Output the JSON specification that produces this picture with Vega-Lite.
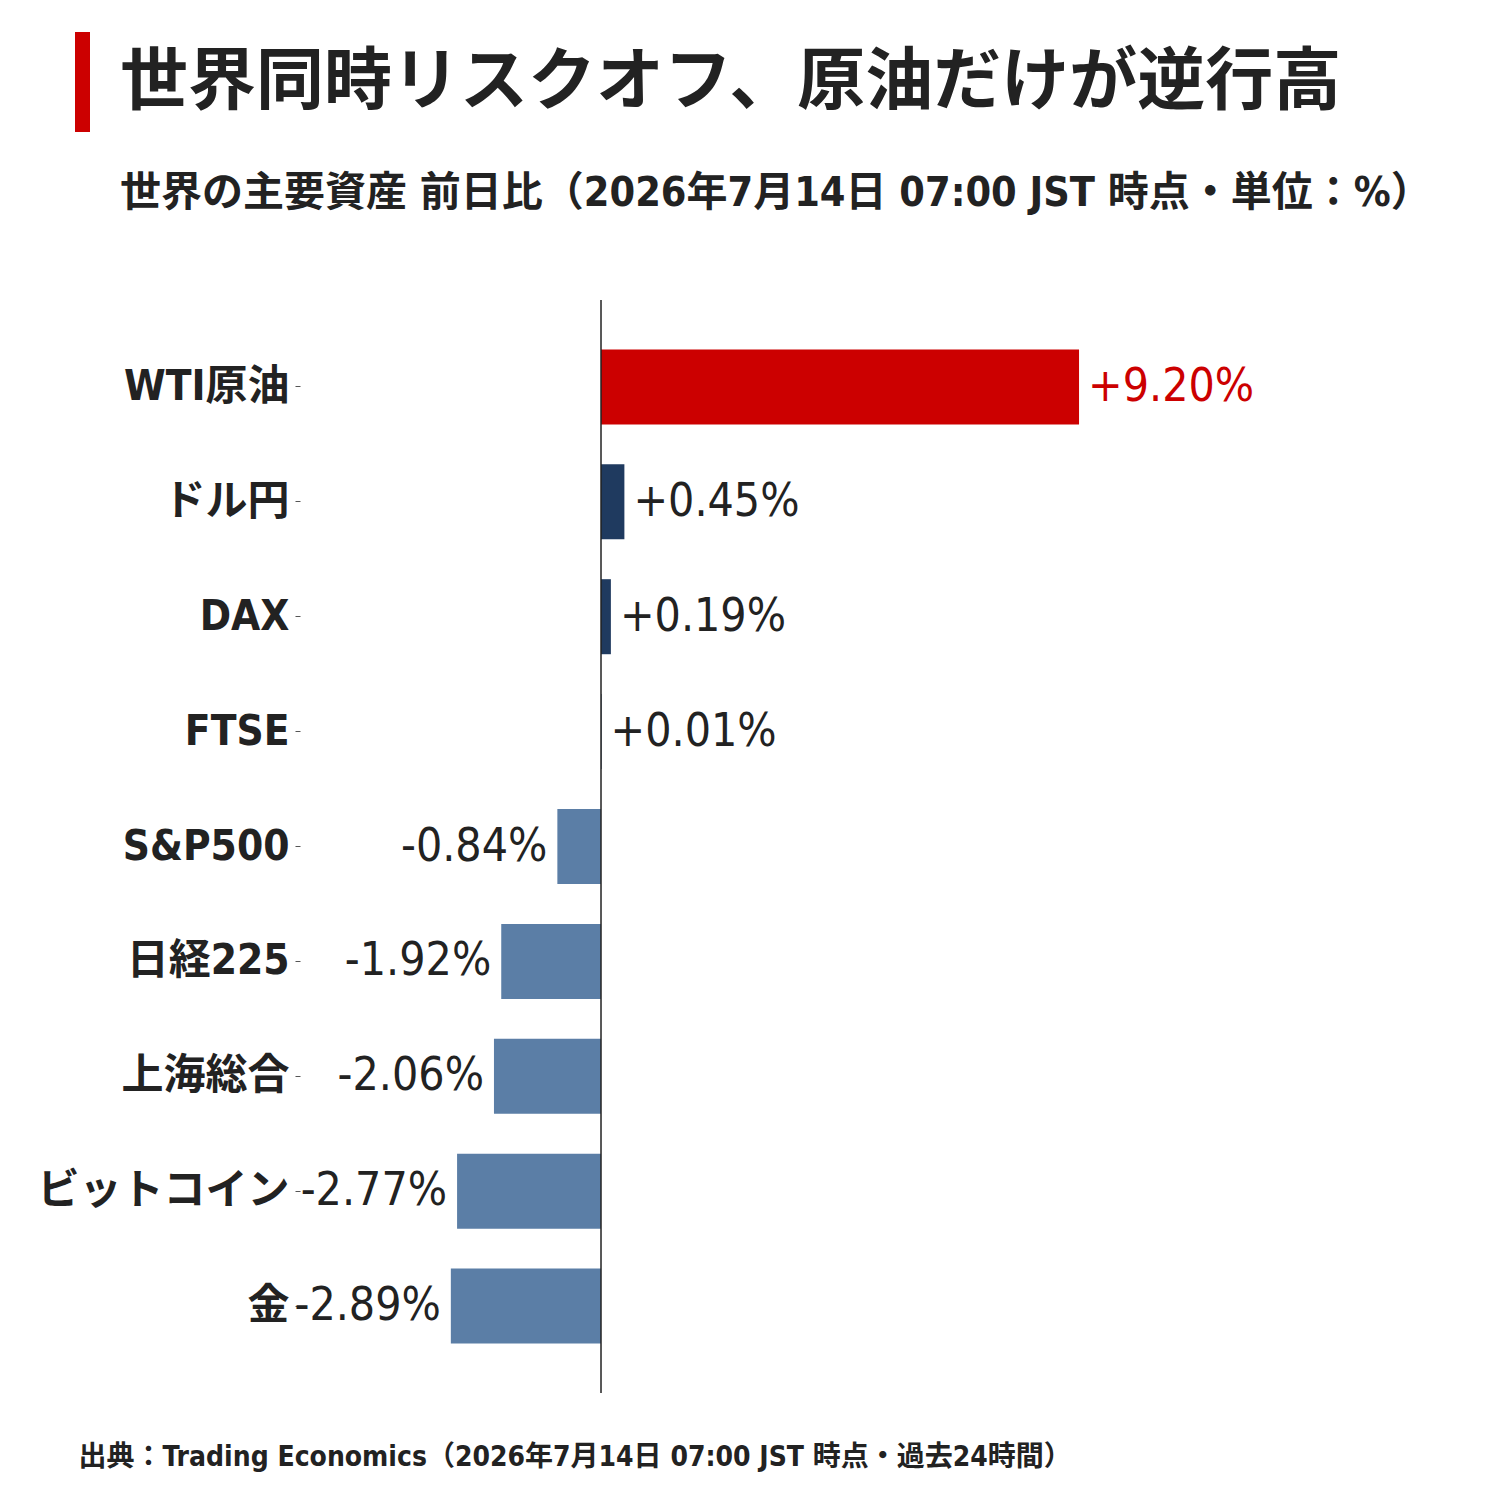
{
  "$schema": "https://vega.github.io/schema/vega-lite/v6.json",
  "autosize": {"type": "none"},
  "padding": {"left": 300, "top": 300, "right": 100, "bottom": 107},
  "width": 1100,
  "height": 1093,
  "background": "white",
  "title": {
    "text": "世界同時リスクオフ、原油だけが逆行高",
    "subtitle": "世界の主要資産 前日比（2026年7月14日 07:00 JST 時点・単位：%）",
    "anchor": "start",
    "frame": "group",
    "dx": -180,
    "offset": -182,
    "font": "DejaVu Sans Condensed, Noto Sans CJK JP",
    "fontSize": 68,
    "fontWeight": "bold",
    "color": "#222222",
    "subtitleFont": "DejaVu Sans Condensed, Noto Sans CJK JP",
    "subtitleFontSize": 41,
    "subtitleFontWeight": "bold",
    "subtitleColor": "#222222",
    "subtitlePadding": 56
  },
  "datasets": {
    "assets": [
      {"asset": "WTI原油", "change": 9.20, "label": "+9.20%", "group": "oil"},
      {"asset": "ドル円", "change": 0.45, "label": "+0.45%", "group": "up"},
      {"asset": "DAX", "change": 0.19, "label": "+0.19%", "group": "up"},
      {"asset": "FTSE", "change": 0.01, "label": "+0.01%", "group": "up"},
      {"asset": "S&P500", "change": -0.84, "label": "-0.84%", "group": "down"},
      {"asset": "日経225", "change": -1.92, "label": "-1.92%", "group": "down"},
      {"asset": "上海総合", "change": -2.06, "label": "-2.06%", "group": "down"},
      {"asset": "ビットコイン", "change": -2.77, "label": "-2.77%", "group": "down"},
      {"asset": "金", "change": -2.89, "label": "-2.89%", "group": "down"}
    ]
  },
  "layer": [
    {
      "data": {"name": "assets"},
      "mark": {"type": "bar"},
      "encoding": {
        "y": {
          "field": "asset",
          "type": "nominal",
          "sort": null,
          "scale": {"paddingInner": 0.347, "paddingOuter": 0.43},
          "axis": {
            "title": null,
            "domain": false,
            "ticks": true,
            "tickSize": 5,
            "tickColor": "#555555",
            "tickWidth": 1,
            "labelPadding": 6,
            "labelLimit": 0,
            "labelFont": "DejaVu Sans Condensed, Noto Sans CJK JP",
            "labelFontSize": 42,
            "labelFontWeight": "bold",
            "labelColor": "#222222"
          }
        },
        "x": {
          "field": "change",
          "type": "quantitative",
          "scale": {"domain": [-5.793, 15.377], "nice": false, "zero": false},
          "axis": {
            "labels": false,
            "ticks": false,
            "domain": false,
            "grid": false,
            "title": "出典：Trading Economics（2026年7月14日 07:00 JST 時点・過去24時間）",
            "titleAnchor": "start",
            "titleAlign": "left",
            "titleX": -222,
            "titleY": 64,
            "titleBaseline": "middle",
            "titleFont": "DejaVu Sans Condensed, Noto Sans CJK JP",
            "titleFontSize": 28,
            "titleFontWeight": "bold",
            "titleColor": "#222222"
          }
        },
        "color": {
          "field": "group",
          "type": "nominal",
          "scale": {"domain": ["oil", "up", "down"], "range": ["#cc0000", "#1f3a5f", "#5b7ea6"]},
          "legend": null
        }
      }
    },
    {
      "data": {"name": "assets"},
      "transform": [{"filter": "datum.change >= 0"}],
      "mark": {
        "type": "text",
        "align": "left",
        "baseline": "middle",
        "dx": 9,
        "font": "DejaVu Sans Condensed",
        "fontSize": 46
      },
      "encoding": {
        "y": {"field": "asset", "type": "nominal", "sort": null},
        "x": {"field": "change", "type": "quantitative"},
        "text": {"field": "label"},
        "color": {
          "condition": {"test": "datum.group === 'oil'", "value": "#cc0000"},
          "value": "#222222"
        }
      }
    },
    {
      "data": {"name": "assets"},
      "transform": [{"filter": "datum.change < 0"}],
      "mark": {
        "type": "text",
        "align": "right",
        "baseline": "middle",
        "dx": -10,
        "font": "DejaVu Sans Condensed",
        "fontSize": 46,
        "color": "#222222"
      },
      "encoding": {
        "y": {"field": "asset", "type": "nominal", "sort": null},
        "x": {"field": "change", "type": "quantitative"},
        "text": {"field": "label"}
      }
    },
    {
      "data": {"values": [{"zero": 0}]},
      "mark": {"type": "rule", "color": "#222222", "strokeWidth": 1.5},
      "encoding": {
        "x": {"field": "zero", "type": "quantitative"}
      }
    },
    {
      "data": {"values": [{}]},
      "mark": {"type": "rect", "color": "#cc0000"},
      "encoding": {
        "x": {"value": -225},
        "x2": {"value": -210},
        "y": {"value": -268},
        "y2": {"value": -168}
      }
    }
  ],
  "config": {
    "view": {"stroke": null}
  }
}
